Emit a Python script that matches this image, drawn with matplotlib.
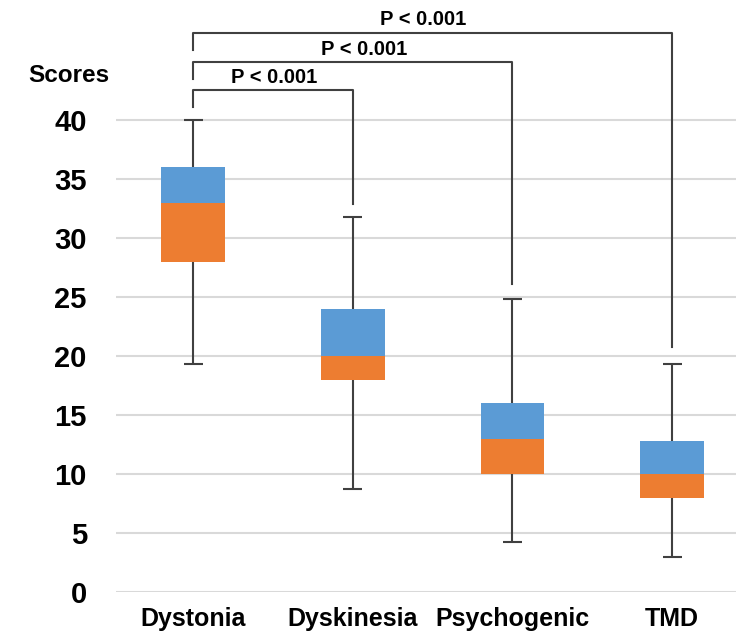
import matplotlib.pyplot as plt
import numpy as np

plt.rcParams['font.family'] = ['Liberation Sans', 'DejaVu Sans']
plt.rcParams['font.weight'] = 'bold'

# values
categories = ['Dystonia', 'Dyskinesia', 'Psychogenic', 'TMD']
mins = [19.3, 8.7, 4.2, 3.0]
q1 = [28, 18, 10, 8]
medians = [33, 20, 13, 10]
q3 = [36, 24, 16, 12.8]
maxs = [40, 31.8, 24.8, 19.3]
p_labels = ['P < 0.001', 'P < 0.001', 'P < 0.001']

blue = '#5B9BD5'
orange = '#ED7D31'
dark = '#404040'

fig = plt.figure(figsize=(7.36, 6.31), dpi=100)
ax = fig.add_axes([116/736, 39/631, 620/736, 592/631])

x = np.arange(len(categories))
lo = np.array(q1)
md = np.array(medians)
hi = np.array(q3)

# whiskers behind the boxes
ax.vlines(x, mins, maxs, color=dark, lw=1.5, zorder=2)
ax.hlines(mins, x - 0.06, x + 0.06, color=dark, lw=1.5, zorder=2)
ax.hlines(maxs, x - 0.06, x + 0.06, color=dark, lw=1.5, zorder=2)

ax.bar(x, md - lo, bottom=lo, width=0.4, color=orange, zorder=3)
ax.bar(x, hi - md, bottom=md, width=0.4, color=blue, zorder=3)

ax.set_xlim(-0.483, 3.4)
ax.set_ylim(0, 592/11.8)
ax.set_yticks(np.arange(0, 41, 5))
ax.yaxis.grid(True, color='#d9d9d9', lw=1.5)
ax.set_axisbelow(True)
for s in ax.spines.values():
    s.set_visible(False)
ax.tick_params(axis='y', length=0, pad=21, labelsize=21)
ax.set_xticks(x)
ax.set_xticklabels(categories)
ax.tick_params(axis='x', length=0, pad=10.5, labelsize=18)

# significance brackets
bar_y = [42.5, 44.9, 47.4]
stub_y = [41.1, 43.5, 45.9]
end_y = [32.9, 26.1, 20.8]
text_x = [0.51, 1.07, 1.44]
for i in range(3):
    j = i + 1
    ax.plot([0, 0, j, j], [stub_y[i], bar_y[i], bar_y[i], end_y[i]],
            color=dark, lw=1.5, clip_on=False)
    ax.text(text_x[i], bar_y[i] + 0.3, p_labels[i], ha='center', va='bottom',
            fontsize=14.5, fontweight='bold')

fig.text(69/736, 1 - 76/631, 'Scores', ha='center', va='center',
         fontsize=17.5, fontweight='bold')

fig.savefig('out.png', dpi=100)
